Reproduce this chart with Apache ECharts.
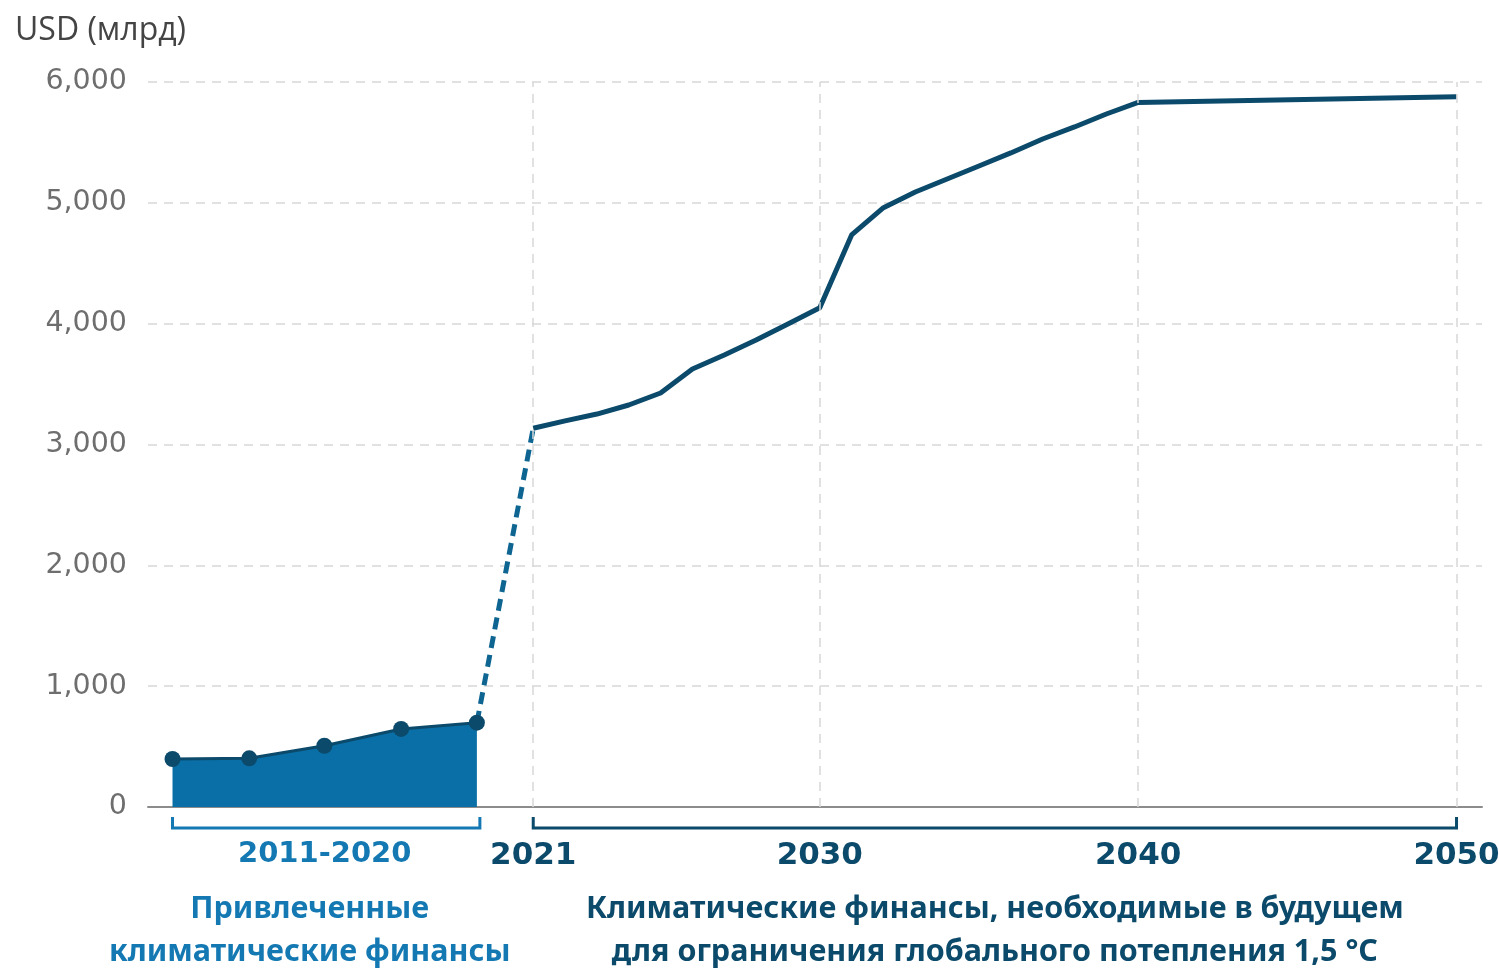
<!DOCTYPE html>
<html><head><meta charset="utf-8">
<script src="https://cdn.jsdelivr.net/npm/echarts@6/dist/echarts.min.js"></script>
<style>html,body{margin:0;padding:0;background:#fff}#c{width:1499px;height:968px}</style>
</head><body><div id="c"></div>
<script>
// ---- data ----
const yTitle = 'USD (млрд)';
const pastLabel = '2011-2020';
const pastX = [2009.67, 2012.08, 2014.44, 2016.85, 2019.23];
const pastValues = [397, 403, 507, 646, 698];
const futureYears = [2021, 2022, 2023, 2024, 2025, 2026, 2027, 2028, 2029, 2030,
  2031, 2032, 2033, 2034, 2035, 2036, 2037, 2038, 2039, 2040, 2050];
const futureValues = [3134, 3195, 3252, 3327, 3426, 3625, 3741, 3865, 3997, 4132,
  4734, 4960, 5090, 5197, 5305, 5413, 5528, 5628, 5735, 5831, 5878];
const futureTicks = [2021, 2030, 2040, 2050];
const yMax = 6000, yStep = 1000;
const captionPast = ['Привлеченные', 'климатические финансы'];
const captionFuture = ['Климатические финансы, необходимые в будущем', 'для ограничения глобального потепления 1,5 °C'];

// ---- styles ----
const NAVY = '#0b4a6b', BLUE = '#1479b3', AREA = '#0a6fa6';
const pastMid = (pastX[0] + pastX[pastX.length - 1]) / 2;

const chart = echarts.init(document.getElementById('c'), null, {renderer: 'canvas'});
const option = {
  animation: false,
  grid: {left: 148, right: 17, top: 82, bottom: 161, containLabel: false, outerBoundsMode: 'none'},
  xAxis: {
    type: 'value', min: 2008.9, max: 2050.8,
    splitLine: {show: false},
    axisTick: {show: false},
    axisLine: {show: true, lineStyle: {color: '#8c8c8c', width: 2}},
    axisLabel: {
      customValues: [pastMid].concat(futureTicks),
      margin: 33,
      hideOverlap: false,
      formatter: v => Math.abs(v - pastMid) < 0.01 ? '{p|' + pastLabel + '}' : '{f|' + Math.round(v) + '}',
      rich: {
        p: {fontFamily: 'DejaVu Sans', fontWeight: 'bold', fontSize: 29, color: BLUE},
        f: {fontFamily: 'DejaVu Sans', fontWeight: 'bold', fontSize: 31, color: NAVY}
      }
    }
  },
  yAxis: {
    type: 'value', min: 0, max: yMax, interval: yStep,
    axisLine: {show: false}, axisTick: {show: false},
    axisLabel: {
      margin: 21, fontFamily: 'DejaVu Sans', fontSize: 28.5, color: '#6e6e6e',
      formatter: v => v.toLocaleString('en-US')
    },
    splitLine: {show: true, lineStyle: {color: '#d8d8d8', width: 1.5, type: [9, 7]}}
  },
  series: [
    {
      type: 'line', z: 1, silent: true, data: [],
      markLine: {
        silent: true, symbol: 'none', label: {show: false},
        lineStyle: {color: '#d8d8d8', width: 1.5, type: [9, 7]},
        data: futureTicks.map(t => [{coord: [t, 0]}, {coord: [t, yMax]}])
      }
    },
    {
      type: 'line', z: 3,
      data: pastX.map((x, i) => [x, pastValues[i]]),
      symbol: 'circle', symbolSize: 16,
      itemStyle: {color: NAVY},
      lineStyle: {color: NAVY, width: 3},
      areaStyle: {color: AREA, opacity: 1}
    },
    {
      type: 'line', z: 2, symbol: 'none',
      data: [[pastX[pastX.length - 1], pastValues[pastValues.length - 1]], [futureYears[0], futureValues[0]]],
      lineStyle: {color: '#0e6592', width: 5, type: [12, 7]}
    },
    {
      type: 'line', z: 4, symbol: 'none',
      data: futureYears.map((y, i) => [y, futureValues[i]]),
      lineStyle: {color: NAVY, width: 5, join: 'round'}
    }
  ]
};
chart.setOption(option);

function px(x, y) { return chart.convertToPixel({gridIndex: 0}, [x, y]); }
const a0 = px(pastX[0], 0), a1 = px(pastX[pastX.length - 1], 0);
const b0 = px(futureTicks[0], 0), b1 = px(futureTicks[futureTicks.length - 1], 0);
const by = a0[1] + 21, bt = a0[1] + 10;
function bracket(p0, p1, color, ext) {
  return {type: 'polyline', shape: {points: [[p0[0], bt], [p0[0], by], [p1[0] + ext, by], [p1[0] + ext, bt]]},
    style: {stroke: color, lineWidth: 3, fill: null}};
}
const capFont = 'bold 30.5px "Noto Sans"';
function caption(lines, cx, color) {
  return lines.map((t, i) => ({type: 'text', x: cx, y: 909 + i * 43,
    style: {text: t, font: capFont, fill: color, align: 'center', verticalAlign: 'middle'}}));
}
chart.setOption({graphic: [
  {type: 'text', x: 15, y: 31, style: {text: yTitle, font: '32px "Open Sans"', fill: '#444', verticalAlign: 'middle'}},
  bracket(a0, a1, BLUE, 3),
  bracket(b0, b1, NAVY, 0)
].concat(caption(captionPast, (a0[0] + a1[0]) / 2 - 15, BLUE))
 .concat(caption(captionFuture, (b0[0] + b1[0]) / 2, NAVY))});
</script>
</body></html>
